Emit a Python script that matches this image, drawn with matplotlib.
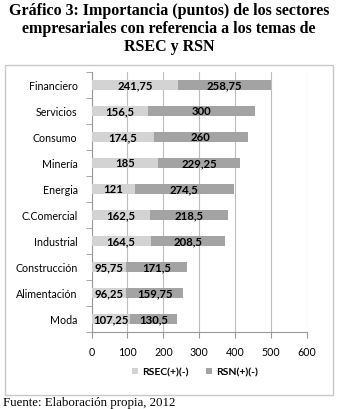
import matplotlib.pyplot as plt
from matplotlib.patches import Rectangle

sectores = ["Financiero", "Servicios", "Consumo", "Minería", "Energia",
            "C.Comercial", "Industrial", "Construcción", "Alimentación", "Moda"]
rsec = [241.75, 156.5, 174.5, 185, 121, 162.5, 164.5, 95.75, 96.25, 107.25]
rsn = [258.75, 300, 260, 229.25, 274.5, 218.5, 208.5, 171.5, 159.75, 130.5]
x_ticks = [0, 100, 200, 300, 400, 500, 600]

color_rsec = "#d3d3d3"
color_rsn = "#a3a3a3"
W, H = 338, 410


def fmt(v):
    return f"{v:g}".replace(".", ",")


fig = plt.figure(figsize=(W / 100, H / 100), dpi=100)
fig.patch.set_facecolor("white")

# title and footer
serif = ["Liberation Serif", "DejaVu Serif"]
title = ("Gráfico 3: Importancia (puntos) de los sectores\n"
         "empresariales con referencia a los temas de\nRSEC y RSN")
fig.text(0.5, 1 - 3 / H, title, ha="center", va="top", fontsize=11.5,
         fontweight="bold", family=serif, linespacing=1.17)
fig.text(3 / W, 1 - 403 / H, "Fuente: Elaboración propia, 2012", ha="left",
         va="center", fontsize=9.3, family=serif)

# chart border
fig.patches.append(Rectangle((5 / W, 1 - 396 / H), 328 / W, 330 / H,
                             transform=fig.transFigure, fill=False,
                             edgecolor="#c8c8c8", linewidth=1))

ax = fig.add_axes([91.5 / W, 1 - 333 / H, 215.5 / W, 260 / H])
y = list(range(len(sectores)))
ax.barh(y, rsec, height=0.42, color=color_rsec, label="RSEC(+)(-)", zorder=3)
ax.barh(y, rsn, left=rsec, height=0.42, color=color_rsn, label="RSN(+)(-)", zorder=3)

lab_font = dict(family=["Lato", "DejaVu Sans"], fontsize=8.2, fontweight="bold")
for i in y:
    ax.text(rsec[i] / 2, i, fmt(rsec[i]), ha="center", va="center", zorder=4, **lab_font)
    ax.text(rsec[i] + rsn[i] / 2, i, fmt(rsn[i]), ha="center", va="center", zorder=4, **lab_font)

ax.set_ylim(len(sectores) - 0.5, -0.5)
ax.set_xlim(0, 600)
ax.set_xticks(x_ticks)
ax.set_xticklabels([str(t) for t in x_ticks], family=["Lato", "DejaVu Sans"], fontsize=7.7)
ax.set_yticks(y)
ax.set_yticklabels(sectores, family=["Lato", "DejaVu Sans"], fontsize=7.7)
ax.set_yticks([i - 0.5 for i in range(len(sectores) + 1)], minor=True)
ax.tick_params(axis="y", which="major", length=0, pad=10)
ax.tick_params(axis="y", which="minor", length=4, color="#999999")
ax.tick_params(axis="x", length=4, color="#999999", pad=6)
ax.grid(axis="x", color="#bdbdbd", linewidth=0.8, zorder=0)
for s in ["top", "right"]:
    ax.spines[s].set_visible(False)
for s in ["left", "bottom"]:
    ax.spines[s].set_color("#999999")
    ax.spines[s].set_linewidth(0.8)

ax.legend(loc="center", bbox_to_anchor=(195 / W, 1 - 373 / H),
          bbox_transform=fig.transFigure, ncol=2, frameon=False,
          prop=dict(family=["Lato", "DejaVu Sans"], size=7.5, weight="bold"),
          handlelength=0.6, handleheight=0.6, handletextpad=0.4, columnspacing=1.6)

fig.savefig("out.png", dpi=100)
